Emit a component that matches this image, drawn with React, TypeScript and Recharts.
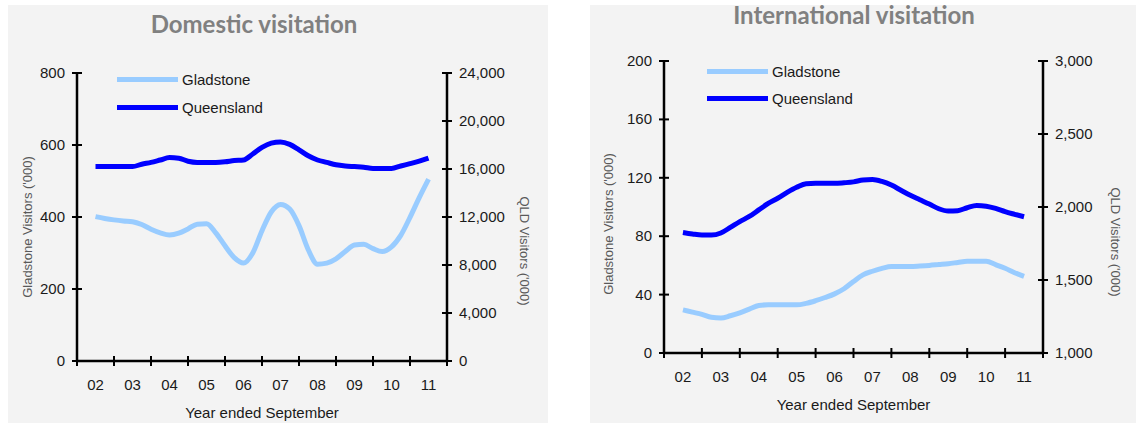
import React from "react";
import { LineChart, Line, XAxis, YAxis, Legend, Label } from "recharts";

// year ended September, quarterly points (02 = 2002 ... 11 = 2011)
const quarters = [
  2, 2.25, 2.5, 2.75, 3, 3.25, 3.5, 3.75, 4, 4.25, 4.5, 4.75, 5, 5.25, 5.5, 5.75,
  6, 6.25, 6.5, 6.75, 7, 7.25, 7.5, 7.75, 8, 8.25, 8.5, 8.75, 9, 9.25, 9.5, 9.75,
  10, 10.25, 10.5, 10.75, 11,
];
const yearTicks = [
  1.5, 2, 2.5, 3, 3.5, 4, 4.5, 5, 5.5, 6, 6.5, 7, 7.5, 8, 8.5, 9, 9.5, 10, 10.5, 11, 11.5,
];
const yearLabels = ["02", "03", "04", "05", "06", "07", "08", "09", "10", "11"];

// Domestic ('000)
const domGladstone = [
  401, 396, 392, 389, 387, 379, 366, 356, 350, 355, 367, 380, 381, 356, 320, 287,
  272, 300, 362, 414, 435, 422, 376, 309, 269, 272, 284, 304, 322, 324, 312, 304,
  317, 349, 399, 454, 505,
];
const domQueensland = [
  16200, 16200, 16200, 16200, 16200, 16400, 16550, 16750, 16950, 16900, 16650, 16550,
  16550, 16550, 16600, 16700, 16750, 17250, 17800, 18150, 18250, 18050, 17600, 17100,
  16750, 16550, 16350, 16250, 16200, 16150, 16050, 16050, 16050, 16250, 16450, 16650,
  16900,
];

// International ('000)
const intGladstone = [
  29.5, 28, 26.5, 24.5, 24, 25.5, 27.5, 30, 32.5, 33, 33, 33, 33, 34, 35.8, 38,
  40.5, 44, 49, 53.5, 56, 58, 59.3, 59.3, 59.3, 59.6, 60, 60.6, 61.2, 62, 62.8, 62.8,
  62.8, 60.5, 58, 55, 52.5,
];
const intQueensland = [
  1825, 1815, 1808, 1808, 1822, 1860, 1900, 1935, 1980, 2025, 2060, 2100, 2135, 2160,
  2162, 2162, 2162, 2166, 2172, 2185, 2188, 2175, 2150, 2115, 2080, 2050, 2020, 1988,
  1972, 1975, 1995, 2010, 2005, 1990, 1968, 1950, 1933,
];

const domLeftTicks = [0, 200, 400, 600, 800];
const domRightTicks = [0, 4000, 8000, 12000, 16000, 20000, 24000];
const intLeftTicks = [0, 40, 80, 120, 160, 200];
const intRightTicks = [1000, 1500, 2000, 2500, 3000];

const domesticData = quarters.map((t, i) => ({
  t,
  gladstone: domGladstone[i],
  queensland: domQueensland[i],
}));
const internationalData = quarters.map((t, i) => ({
  t,
  gladstone: intGladstone[i],
  queensland: intQueensland[i],
}));

const FONT = "'Liberation Sans', Arial, sans-serif";
const fmt = (v: number) => v.toLocaleString("en-US");

const YearTick = (props: any) => {
  const { x, y, payload } = props;
  const v = payload.value;
  if (v % 1 !== 0) {
    return <line x1={x} x2={x} y1={y - 5} y2={y + 5} stroke="#000" strokeWidth={2} />;
  }
  return (
    <text x={x} y={y + 29} textAnchor="middle" fontSize={15} fill="#1a1a1a" fontFamily={FONT}>
      {yearLabels[v - 2]}
    </text>
  );
};

const ValueTick = (side: "left" | "right") => (props: any) => {
  const { x, y, payload } = props;
  return (
    <g>
      <line x1={x - 5} x2={x + 5} y1={y} y2={y} stroke="#000" strokeWidth={2} />
      <text
        x={side === "left" ? x - 12 : x + 12}
        y={y + 5}
        textAnchor={side === "left" ? "end" : "start"}
        fontSize={15}
        fill="#1a1a1a"
        fontFamily={FONT}
      >
        {fmt(payload.value)}
      </text>
    </g>
  );
};

const sideTitle = (text: string, cx: number, cy: number, angle: number) => () =>
  (
    <text
      transform={`translate(${cx},${cy}) rotate(${angle})`}
      textAnchor="middle"
      dominantBaseline="central"
      fontSize={13}
      fill="#595959"
      fontFamily={FONT}
    >
      {text}
    </text>
  );

const bottomTitle = (below: number) => (props: any) => {
  const vb = props.viewBox;
  return (
    <text
      x={vb.x + vb.width / 2}
      y={vb.y + below}
      textAnchor="middle"
      dominantBaseline="central"
      fontSize={15}
      fill="#1a1a1a"
      fontFamily={FONT}
    >
      Year ended September
    </text>
  );
};

const legendContent = (rowHeight: number) => (props: any) => (
  <div>
    {props.payload.map((p: any) => (
      <div key={p.value} style={{ display: "flex", alignItems: "center", height: rowHeight }}>
        <span style={{ display: "inline-block", width: 61, height: 5, background: p.color, marginRight: 4 }} />
        <span style={{ fontSize: 15, color: "#1a1a1a", fontFamily: FONT }}>{p.value}</span>
      </div>
    ))}
  </div>
);

const axisLine = { stroke: "#000", strokeWidth: 2.5 };

function Panel(props: {
  left: number;
  width: number;
  title: string;
  titleX: number;
  titleY: number;
  data: any[];
  top: number;
  plotHeight: number;
  leftW: number;
  rightW: number;
  leftDomain: number[];
  leftTicks: number[];
  rightDomain: number[];
  rightTicks: number[];
  leftTitle: number[];
  rightTitle: number[];
  legendLeft: number;
  legendTop: number;
  legendRow: number;
}) {
  const height = 418;
  const xH = height - props.top - props.plotHeight;
  return (
    <div
      style={{
        position: "absolute",
        left: props.left,
        top: 5,
        width: props.width,
        height,
        background: "#f3f3f3",
      }}
    >
      <div
        style={{
          position: "absolute",
          left: props.titleX - 200,
          width: 400,
          top: props.titleY - 15,
          height: 30,
          lineHeight: "30px",
          textAlign: "center",
          fontFamily: "Lato, sans-serif",
          fontWeight: 700,
          fontSize: 24,
          color: "#808080",
        }}
      >
        {props.title}
      </div>
      <div style={{ position: "absolute", left: 0, top: 0, width: props.width, height }}>
        <LineChart
          width={props.width}
          height={height}
          data={props.data}
          margin={{ top: props.top, right: 0, bottom: 0, left: 0 }}
        >
          <XAxis
            dataKey="t"
            type="number"
            domain={[1.5, 11.5]}
            ticks={yearTicks}
            interval={0}
            tick={YearTick}
            tickLine={false}
            tickSize={0}
            tickMargin={0}
            axisLine={axisLine}
            height={xH}
            label={<Label content={bottomTitle(51)} />}
          />
          <YAxis
            yAxisId="left"
            orientation="left"
            width={props.leftW}
            domain={props.leftDomain}
            ticks={props.leftTicks}
            interval={0}
            tick={ValueTick("left")}
            tickLine={false}
            tickSize={0}
            tickMargin={0}
            axisLine={axisLine}
            label={
              <Label
                content={sideTitle("Gladstone Visitors ('000)", props.leftTitle[0], props.leftTitle[1], -90)}
              />
            }
          />
          <YAxis
            yAxisId="right"
            orientation="right"
            width={props.rightW}
            domain={props.rightDomain}
            ticks={props.rightTicks}
            interval={0}
            tick={ValueTick("right")}
            tickLine={false}
            tickSize={0}
            tickMargin={0}
            axisLine={axisLine}
            label={
              <Label content={sideTitle("QLD Visitors ('000)", props.rightTitle[0], props.rightTitle[1], 90)} />
            }
          />
          <Legend
            layout="vertical"
            align="center"
            verticalAlign="middle"
            content={legendContent(props.legendRow)}
            wrapperStyle={{ left: props.legendLeft, top: props.legendTop, width: "auto" }}
          />
          <Line
            yAxisId="left"
            dataKey="gladstone"
            name="Gladstone"
            type="monotone"
            stroke="#99ccff"
            strokeWidth={5}
            dot={false}
            activeDot={false}
            isAnimationActive={false}
          />
          <Line
            yAxisId="right"
            dataKey="queensland"
            name="Queensland"
            type="monotone"
            stroke="#0000ff"
            strokeWidth={5}
            dot={false}
            activeDot={false}
            isAnimationActive={false}
          />
        </LineChart>
      </div>
    </div>
  );
}

export default function App() {
  return (
    <div
      style={{
        position: "fixed",
        left: 0,
        top: 0,
        width: 1136,
        height: 423,
        background: "#fff",
      }}
    >
      <Panel
        left={8}
        width={540}
        title="Domestic visitation"
        titleX={246}
        titleY={19}
        data={domesticData}
        top={68}
        plotHeight={288}
        leftW={69}
        rightW={101}
        leftDomain={[0, 800]}
        leftTicks={domLeftTicks}
        rightDomain={[0, 24000]}
        rightTicks={domRightTicks}
        leftTitle={[19, 222]}
        rightTitle={[516, 246]}
        legendLeft={109}
        legendTop={60}
        legendRow={28}
      />
      <Panel
        left={590}
        width={546}
        title="International visitation"
        titleX={264}
        titleY={10}
        data={internationalData}
        top={56}
        plotHeight={292}
        leftW={74}
        rightW={93}
        leftDomain={[0, 200]}
        leftTicks={intLeftTicks}
        rightDomain={[1000, 3000]}
        rightTicks={intRightTicks}
        leftTitle={[18, 219]}
        rightTitle={[525, 237]}
        legendLeft={117}
        legendTop={53}
        legendRow={27}
      />
    </div>
  );
}
